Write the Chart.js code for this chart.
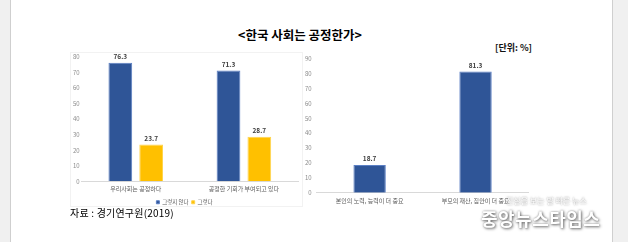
<!DOCTYPE html>
<html>
<head>
<meta charset="utf-8">
<script src="https://cdn.jsdelivr.net/npm/chart.js@4"></script>
<style>
  html, body { margin:0; padding:0; }
  body { width:628px; height:242px; background:#f0f0f0; position:relative; overflow:hidden;
         font-family:"Noto Sans CJK KR", "Noto Sans", sans-serif; }
  #page { position:absolute; left:10px; top:0; width:601px; height:242px; background:#fff;
          border-left:1px solid #cfcfcf; border-right:1px solid #cfcfcf; }
  .abs { position:absolute; white-space:nowrap; }
  #title { left:0; width:600px; top:25px; text-align:center; font-size:12.5px; font-weight:bold; color:#000; }
  #unit { left:495px; top:41px; font-size:9px; font-weight:bold; color:#111; }
  #src { left:70px; top:205px; font-size:10px; color:#000; letter-spacing:0.2px; }
  #panelL { left:70px; top:52px; width:231px; height:153px; border:1px solid #f2f2f2; }
  #panelR { left:302px; top:52px; width:240px; height:150px; border-left:1px solid #f2f2f2; }
  #wmSmall { left:506px; top:195px; font-size:8px; color:#fff; text-shadow:0 0 2px #777; }
  #wm { left:481px; top:205px; font-size:18px; font-weight:bold; color:#fff; letter-spacing:0.5px;
        text-shadow:1px 1px 3px #666, 0 0 2px #999; }
  canvas { position:absolute; }
</style>
</head>
<body>
<div id="page"></div>
<div class="abs" id="panelL"></div>
<div class="abs" id="panelR"></div>
<div class="abs" id="title">&lt;한국 사회는 공정한가&gt;</div>
<div class="abs" id="unit">[단위: %]</div>
<canvas id="chartL" width="231" height="165" style="left:71px;top:50px;width:231px;height:165px"></canvas>
<canvas id="chartR" width="240" height="158" style="left:300px;top:50px;width:240px;height:158px"></canvas>
<div class="abs" id="src">자료 : 경기연구원(2019)</div>
<div class="abs" id="wmSmall">진실을 보는 발 빠른 뉴스</div>
<div class="abs" id="wm">중앙뉴스타임스</div>
<script>
// data
const leftCats = ['우리사회는 공정하다', '공정한 기회가 부여되고 있다'];
const leftNo = [76.3, 71.3];   // 그렇지 않다
const leftYes = [23.7, 28.7];  // 그렇다
const leftSeries = ['그렇지 않다', '그렇다'];
const rightCats = ['본인의 노력, 능력이 더 중요', '부모의 재산, 집안이 더 중요'];
const rightVals = [18.7, 81.3];

const BLUE = '#2F5597', BLUE_EDGE = '#5B7FC4', YELLOW = '#FFC000';
const FONT = '"Noto Sans CJK KR", "Noto Sans", sans-serif';

// value labels above bars
const valueLabels = {
  id: 'valueLabels',
  afterDatasetsDraw(chart) {
    const ctx = chart.ctx;
    ctx.save();
    ctx.font = 'bold 6.5px ' + FONT;
    ctx.fillStyle = '#404040';
    ctx.textAlign = 'center';
    ctx.textBaseline = 'bottom';
    chart.data.datasets.forEach((ds, i) => {
      chart.getDatasetMeta(i).data.forEach((bar, j) => {
        ctx.fillText(ds.data[j].toFixed(1), bar.x, bar.y - 3);
      });
    });
    ctx.restore();
  }
};

function axes(max, yPad) {
  return {
    y: {
      min: 0, max: max,
      ticks: { stepSize: 10, font: { size: 6, family: FONT }, color: '#8c8c8c', padding: yPad },
      grid: { display: false, drawTicks: false }, border: { display: false }
    },
    x: {
      ticks: { font: { size: 6, family: FONT }, color: '#595959', padding: 4, maxRotation: 0, autoSkip: false },
      grid: { display: false, drawTicks: false },
      border: { color: '#d9d9d9', width: 1 }
    }
  };
}

new Chart(document.getElementById('chartL'), {
  type: 'bar',
  data: {
    labels: leftCats,
    datasets: [
      { label: leftSeries[0], data: leftNo, backgroundColor: BLUE, borderColor: BLUE_EDGE, borderWidth: 1,
        categoryPercentage: 0.57, barPercentage: 0.77 },
      { label: leftSeries[1], data: leftYes, backgroundColor: YELLOW, borderColor: '#FFD44D', borderWidth: 1,
        categoryPercentage: 0.57, barPercentage: 0.77 }
    ]
  },
  options: {
    responsive: false, animation: false, devicePixelRatio: 1,
    layout: { padding: { top: 7, right: 4, left: 0, bottom: 0 } },
    plugins: {
      legend: {
        position: 'bottom',
        labels: { boxWidth: 3, boxHeight: 3, padding: 3, color: '#595959', font: { size: 5.5, family: FONT } }
      },
      tooltip: { enabled: false }
    },
    scales: axes(80, 2)
  },
  plugins: [valueLabels]
});

new Chart(document.getElementById('chartR'), {
  type: 'bar',
  data: {
    labels: rightCats,
    datasets: [
      { label: '', data: rightVals, backgroundColor: BLUE, borderColor: BLUE_EDGE, borderWidth: 1,
        categoryPercentage: 0.55, barPercentage: 0.556 }
    ]
  },
  options: {
    responsive: false, animation: false, devicePixelRatio: 1,
    layout: { padding: { top: 8, right: 11.5, left: 0, bottom: 0 } },
    plugins: { legend: { display: false }, tooltip: { enabled: false } },
    scales: axes(90, 5)
  },
  plugins: [valueLabels]
});
</script>
</body>
</html>
